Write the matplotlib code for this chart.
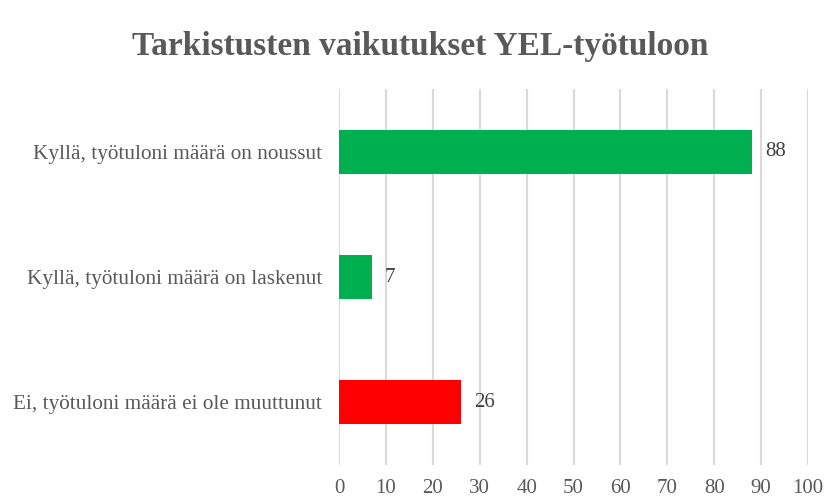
import matplotlib
matplotlib.use("Agg")
import matplotlib.pyplot as plt

categories = ["Kyllä, työtuloni määrä on noussut",
              "Kyllä, työtuloni määrä on laskenut",
              "Ei, työtuloni määrä ei ole muuttunut"]
values = [88, 7, 26]
colors = ["#00B050", "#00B050", "#FF0000"]
xticks = list(range(0, 101, 10))

plt.rcParams['font.family'] = ['Liberation Serif', 'DejaVu Serif']
txt = "#595959"

fig = plt.figure(figsize=(8.4, 5.0), dpi=100)
ax = fig.add_axes([0.4036, 0.07, 0.5583, 0.752])

ypos = list(range(len(categories)))
ax.barh(ypos, values, height=0.35, color=colors, zorder=3)
for y, v in zip(ypos, values):
    ax.text(v + 2.8, y, str(v), va='center', ha='left', fontsize=15, color="#404040")

ax.set_xlim(0, 100)
ax.set_ylim(2.5, -0.5)
ax.set_yticks(ypos)
ax.set_yticklabels(categories, fontsize=15.3, color=txt)
ax.set_xticks(xticks)
ax.set_xticklabels([str(t) for t in xticks], fontsize=15, color=txt)
ax.tick_params(axis='both', length=0)
ax.tick_params(axis='y', pad=12)
ax.tick_params(axis='x', pad=10)
ax.grid(axis='x', color="#D9D9D9", linewidth=1.5, zorder=0)
for s in ax.spines.values():
    s.set_visible(False)

fig.text(0.5, 0.908, "Tarkistusten vaikutukset YEL-työtuloon", ha='center', va='center',
         fontsize=24, fontweight='bold', color=txt)

fig.savefig("out.png", dpi=100)
